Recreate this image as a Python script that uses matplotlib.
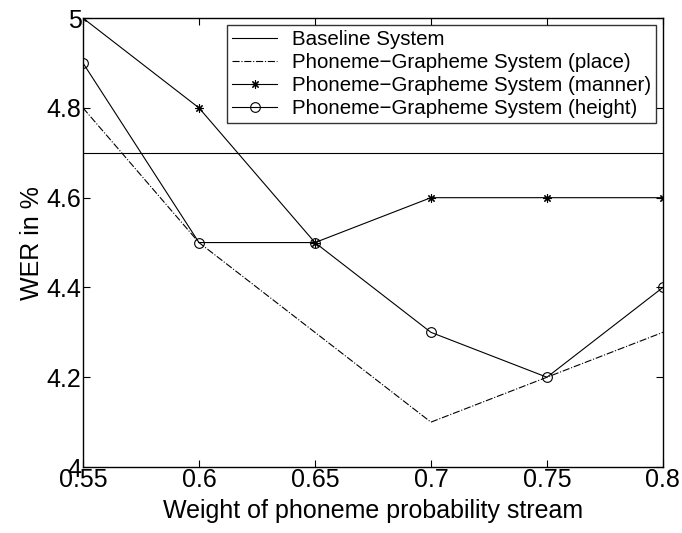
import numpy as np
import matplotlib.pyplot as plt

plt.rcParams['font.family'] = ['Liberation Sans', 'DejaVu Sans']

weights = [0.55, 0.6, 0.65, 0.7, 0.75, 0.8]
baseline = [4.7, 4.7, 4.7, 4.7, 4.7, 4.7]
wer_place = [4.8, 4.5, 4.3, 4.1, 4.2, 4.3]
wer_manner = [5.0, 4.8, 4.5, 4.6, 4.6, 4.6]
wer_height = [4.9, 4.5, 4.5, 4.3, 4.2, 4.4]

labels = ['Baseline System',
          'Phoneme\u2212Grapheme System (place)',
          'Phoneme\u2212Grapheme System (manner)',
          'Phoneme\u2212Grapheme System (height)']

fig = plt.figure(figsize=(6.82, 5.33), dpi=100)
ax = fig.add_axes([0.1217, 0.1238, 0.8503, 0.8422])

ax.plot(weights, baseline, '-', color='black', lw=0.8, label=labels[0])
ax.plot(weights, wer_place, '-.', color='black', lw=0.8, label=labels[1])
ax.plot(weights, wer_manner, '-', marker=(8, 2, 0), color='black', lw=0.8,
        ms=6, mew=0.8, label=labels[2])
ax.plot(weights, wer_height, '-o', color='black', lw=0.8, ms=7,
        mfc='none', mew=0.8, label=labels[3])

ax.set_xlim(0.55, 0.8)
ax.set_ylim(4, 5)
ax.set_xticks(weights)
ax.set_xticklabels(['0.55', '0.6', '0.65', '0.7', '0.75', '0.8'])
ax.set_yticks([4, 4.2, 4.4, 4.6, 4.8, 5])
ax.set_yticklabels(['4', '4.2', '4.4', '4.6', '4.8', '5'])
ax.tick_params(direction='in', top=True, right=True, labelsize=18, length=5, pad=1)
for s in ax.spines.values():
    s.set_linewidth(1.0)

ax.set_xlabel('Weight of phoneme probability stream', fontsize=18, labelpad=5)
ax.set_ylabel('WER in %', fontsize=18, labelpad=2)

leg = ax.legend(loc='upper right', bbox_to_anchor=(0.988, 0.985), fontsize=14.8,
                frameon=True, fancybox=False, edgecolor='black',
                handlelength=2.2, handletextpad=0.7, labelspacing=0.2,
                borderpad=0.25, borderaxespad=0)
leg.get_frame().set_linewidth(1.0)

fig.savefig('out.png', dpi=100)
